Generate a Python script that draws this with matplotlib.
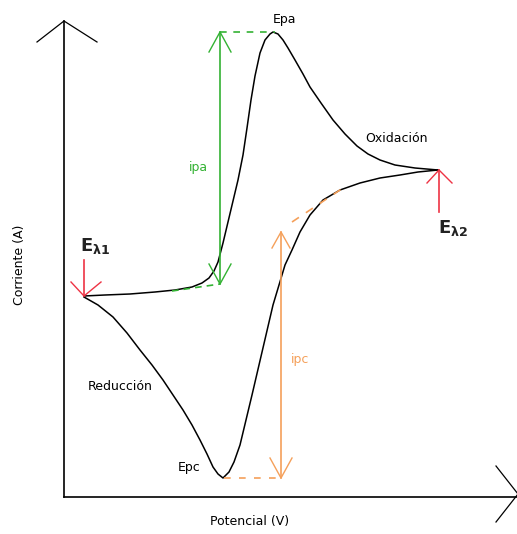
import matplotlib.pyplot as plt
import numpy as np

## voltammogram sketch, coordinates (pixel units)

# forward sweep (oxidation), from E_lambda1 to E_lambda2
fwd_x = [84, 105, 130, 155, 175, 192, 202, 209, 214, 218, 223, 228, 233, 238, 243, 247, 251,
         255, 260, 265, 270, 273, 278, 283, 288, 295, 303, 310, 321, 333, 345, 357, 368,
         380, 395, 415, 438]
fwd_y = [296, 295, 294, 292, 290, 287, 283, 278, 271, 262, 243, 222, 201, 180, 155, 128, 100,
         76, 53, 40, 34, 32, 34, 40, 48, 60, 74, 87, 103, 120, 134, 146, 154,
         160, 165, 168, 170]

# reverse sweep (reduction), from E_lambda2 back to E_lambda1
rev_x = [438, 418, 400, 380, 360, 340, 323, 310, 300, 292, 285, 279, 273, 266, 259, 252, 246,
         240, 234, 229, 223, 218, 213, 207, 200, 192, 183, 173, 163, 152, 140, 127, 113,
         98, 84]
rev_y = [170, 172, 175, 178, 183, 190, 200, 215, 232, 250, 265, 285, 305, 335, 365, 395, 420,
         445, 462, 472, 478, 474, 467, 454, 440, 425, 410, 395, 380, 365, 350, 333, 317,
         305, 297]

labels = ['Epa', 'Oxidación', 'Reducción', 'Epc', 'ipa', 'ipc', 'Corriente (A)', 'Potencial (V)']

green = '#33b233'
orange = '#f5a05a'
red = '#ee3344'

fig = plt.figure(figsize=(5.17, 5.34), dpi=100)
ax = fig.add_axes([0, 0, 1, 1])
ax.set_xlim(0, 517)
ax.set_ylim(534, 0)
ax.axis('off')

## axes drawn by hand
ax.plot([64, 64], [497, 21], color='black', lw=1.2)
ax.plot([37, 64, 97], [42, 21, 42], color='black', lw=0.9)
ax.plot([64, 517], [497, 497], color='black', lw=1.2)
ax.plot([496, 518, 496], [466, 494, 522], color='black', lw=0.9)

## curve
ax.plot(fwd_x, fwd_y, color='black', lw=1.1)
ax.plot(rev_x, rev_y, color='black', lw=1.1)

## ipa construction
ax.plot([220, 275], [32, 32], color=green, lw=1.2, ls=(0, (4, 4)))
ax.plot([172, 220], [291, 284], color=green, lw=1.2, ls=(0, (4, 3)))
ax.plot([220, 220], [32, 284], color=green, lw=1.2)
ax.plot([209, 220, 231], [52, 32, 52], color=green, lw=1.0)
ax.plot([209, 220, 231], [264, 284, 264], color=green, lw=1.0)

## ipc construction
ax.plot([224, 281], [478, 478], color=orange, lw=1.2, ls=(0, (4, 5)))
ax.plot([292, 346], [222, 186], color=orange, lw=1.2, ls=(0, (5, 5)))
ax.plot([281, 281], [232, 478], color=orange, lw=1.2)
ax.plot([272, 281, 290], [248, 232, 248], color=orange, lw=1.0)
ax.plot([270, 281, 292], [458, 478, 458], color=orange, lw=1.0)

## switching potentials
ax.plot([84, 84], [260, 296], color=red, lw=1.2)
ax.plot([71, 84, 101], [282, 296, 282], color=red, lw=1.0)
ax.plot([439, 439], [212, 170], color=red, lw=1.2)
ax.plot([427, 439, 452], [183, 170, 183], color=red, lw=1.0)

## texts
fs = 9
ax.text(285, 20, labels[0], fontsize=fs, ha='center', va='center')
ax.text(396, 138, labels[1], fontsize=fs, ha='center', va='center')
ax.text(120, 386, labels[2], fontsize=fs, ha='center', va='center')
ax.text(189, 467, labels[3], fontsize=fs, ha='center', va='center')
ax.text(198, 168, labels[4], fontsize=fs, ha='center', va='center', color=green)
ax.text(300, 360, labels[5], fontsize=fs, ha='center', va='center', color=orange)
ax.text(20, 265, labels[6], fontsize=fs, ha='center', va='center', rotation=90)
ax.text(250, 522, labels[7], fontsize=fs, ha='center', va='center')
ax.text(95, 246, r'$\mathbf{E}_{\mathbf{\lambda 1}}$', fontsize=13, ha='center', va='center', color='#222222')
ax.text(453, 228, r'$\mathbf{E}_{\mathbf{\lambda 2}}$', fontsize=13, ha='center', va='center', color='#222222')

fig.savefig('out.png', dpi=100)
